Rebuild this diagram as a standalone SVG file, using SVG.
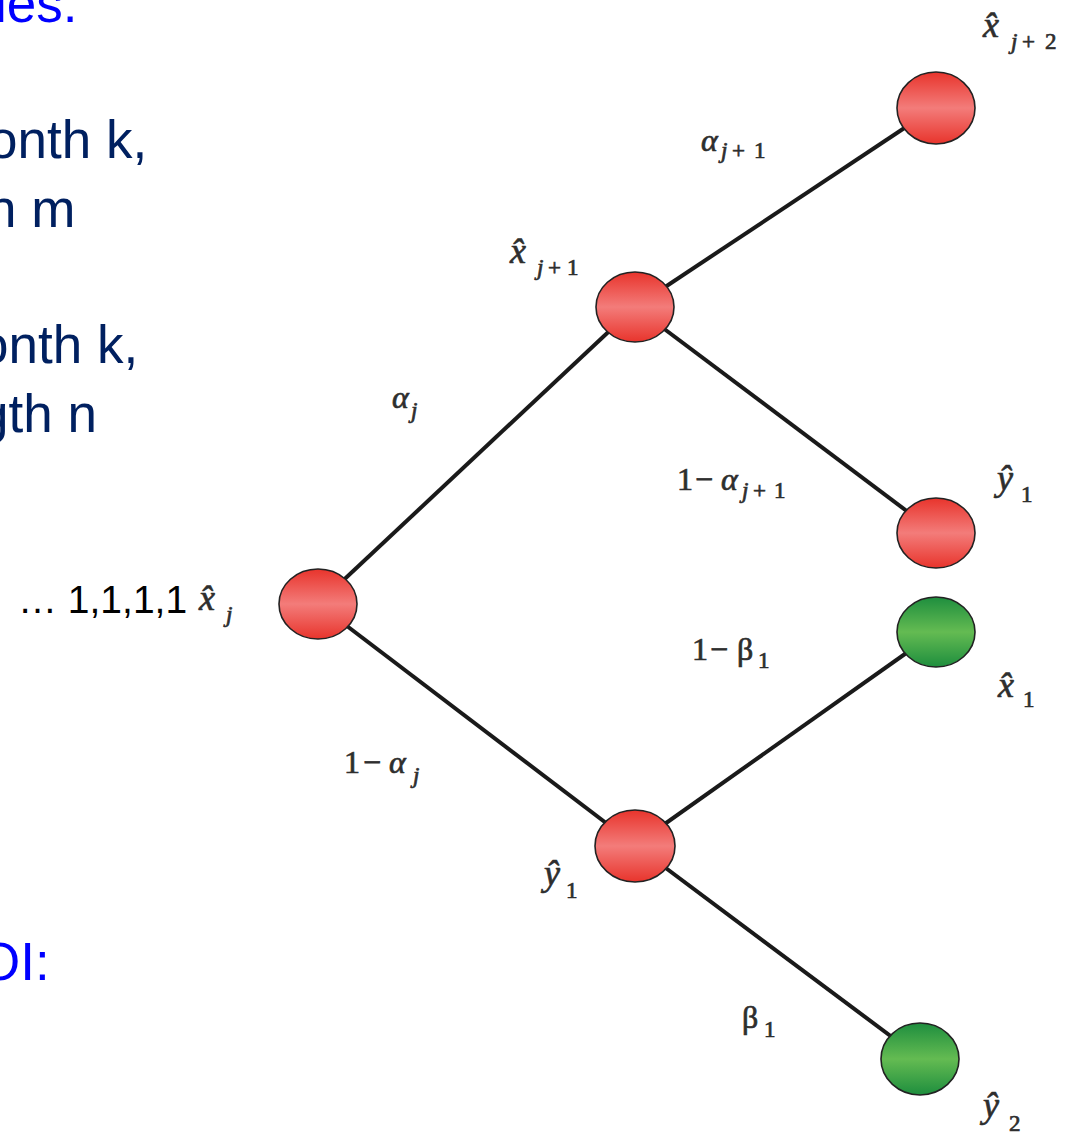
<svg xmlns="http://www.w3.org/2000/svg" width="1072" height="1134" viewBox="0 0 1072 1134">
<style>
.navy{font-family:"Liberation Sans",Arial,sans-serif;font-size:53px;fill:#002060}
.blue{font-family:"Liberation Sans",Arial,sans-serif;font-size:53px;fill:#0000FF}
.blk{font-family:"Liberation Sans",Arial,sans-serif;font-size:39px;fill:#000}
.lb{font-family:"Liberation Serif","Times New Roman",serif;font-size:32px;fill:#2e2e2e;stroke:#2e2e2e;stroke-width:0.7}
.it{font-style:italic}
.hx{font-size:36px}
.sb{font-size:23px}
.edge{stroke:#1a1a1a;stroke-width:4;fill:none}
.red{fill:url(#gr);stroke:#222;stroke-width:1.6}
.grn{fill:url(#gg);stroke:#222;stroke-width:1.6}
</style>
<defs>
<linearGradient id="gr" x1="0" y1="0" x2="0" y2="1">
<stop offset="0" stop-color="#E8342C"/>
<stop offset="0.5" stop-color="#F37C7A"/>
<stop offset="1" stop-color="#E8342C"/>
</linearGradient>
<linearGradient id="gg" x1="0" y1="0" x2="0" y2="1">
<stop offset="0" stop-color="#1E8E3E"/>
<stop offset="0.5" stop-color="#64BB52"/>
<stop offset="1" stop-color="#1E8E3E"/>
</linearGradient>
</defs>
<rect width="1072" height="1134" fill="#fff"/>
<g id="left-text">
<text class="blue" x="-5" y="22">les:</text>
<text class="navy" x="-12" y="158">onth k,</text>
<text class="navy" x="-13" y="227">n m</text>
<text class="navy" x="-21" y="363">onth k,</text>
<text class="navy" x="-21" y="432">gth n</text>
<text class="blue" x="-21" y="980">OI:</text>
<text class="blk" x="18" y="613">… 1,1,1,1</text>
</g>
<g id="connectors">
<line class="edge" x1="318" y1="604" x2="635" y2="307"/>
<line class="edge" x1="635" y1="307" x2="936" y2="107"/>
<line class="edge" x1="635" y1="307" x2="936" y2="533"/>
<line class="edge" x1="318" y1="604" x2="635" y2="845"/>
<line class="edge" x1="635" y1="845" x2="936" y2="632"/>
<line class="edge" x1="635" y1="845" x2="920" y2="1058"/>
</g>
<g id="edge-labels">
<text class="lb"><tspan class="it" x="701" y="151">α</tspan><tspan class="it sb" x="721" y="158">j</tspan><tspan class="sb" x="732" y="158">+</tspan><tspan class="sb" x="754" y="158">1</tspan></text>
<text class="lb"><tspan class="it" x="392" y="408">α</tspan><tspan class="it sb" x="411" y="418">j</tspan></text>
<text class="lb"><tspan x="677" y="490">1</tspan><tspan x="695" y="490">−</tspan><tspan class="it" x="721" y="490">α</tspan><tspan class="it sb" x="742" y="498">j</tspan><tspan class="sb" x="753" y="498">+</tspan><tspan class="sb" x="774" y="498">1</tspan></text>
<text class="lb"><tspan x="692" y="660">1</tspan><tspan x="710" y="660">−</tspan><tspan x="737" y="660">β</tspan><tspan class="sb" x="758" y="668">1</tspan></text>
<text class="lb"><tspan x="344" y="773">1</tspan><tspan x="363" y="773">−</tspan><tspan class="it" x="389" y="773">α</tspan><tspan class="it sb" x="413" y="783">j</tspan></text>
<text class="lb"><tspan x="742" y="1028">β</tspan><tspan class="sb" x="764" y="1037">1</tspan></text>
</g>
<g id="node-xj">
<ellipse class="red" cx="318" cy="604" rx="39" ry="35"/>
<text class="lb"><tspan class="it hx" x="199" y="610">x̂</tspan><tspan class="it sb" x="226" y="622">j</tspan></text>
</g>
<g id="node-xj1">
<ellipse class="red" cx="635" cy="307" rx="39" ry="35"/>
<text class="lb"><tspan class="it hx" x="510" y="263">x̂</tspan><tspan class="it sb" x="537" y="275">j</tspan><tspan class="sb" x="548" y="275">+</tspan><tspan class="sb" x="567" y="275">1</tspan></text>
</g>
<g id="node-xj2">
<ellipse class="red" cx="936" cy="108" rx="39" ry="36"/>
<text class="lb"><tspan class="it hx" x="983" y="37">x̂</tspan><tspan class="it sb" x="1011" y="49">j</tspan><tspan class="sb" x="1022" y="49">+</tspan><tspan class="sb" x="1045" y="49">2</tspan></text>
</g>
<g id="node-y1a">
<ellipse class="red" cx="936" cy="533" rx="39" ry="35"/>
<text class="lb"><tspan class="it hx" x="997" y="490">ŷ</tspan><tspan class="sb" x="1021" y="502">1</tspan></text>
</g>
<g id="node-x1">
<ellipse class="grn" cx="936" cy="632" rx="39" ry="35"/>
<text class="lb"><tspan class="it hx" x="998" y="697">x̂</tspan><tspan class="sb" x="1023" y="707">1</tspan></text>
</g>
<g id="node-y1b">
<ellipse class="red" cx="635" cy="846" rx="40" ry="36"/>
<text class="lb"><tspan class="it hx" x="544" y="885">ŷ</tspan><tspan class="sb" x="566" y="898">1</tspan></text>
</g>
<g id="node-y2">
<ellipse class="grn" cx="920" cy="1059" rx="39" ry="36"/>
<text class="lb"><tspan class="it hx" x="983" y="1117">ŷ</tspan><tspan class="sb" x="1009" y="1131">2</tspan></text>
</g>
</svg>
